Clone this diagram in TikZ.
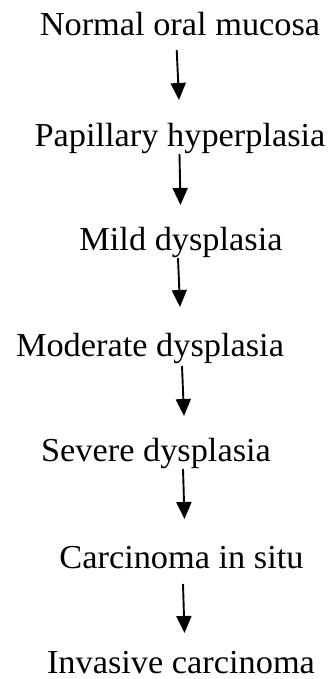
\documentclass[tikz,border=0pt]{standalone}
\usepackage{fontspec}
\setmainfont{Liberation Serif}
\usetikzlibrary{arrows.meta}
\begin{document}
\begin{tikzpicture}[x=1pt,y=-1pt,
  stage/.style={anchor=base,inner sep=0pt,font=\fontsize{33.5}{40}\selectfont},
  arr/.style={line width=1.9pt,-{Triangle[width=15pt,length=17pt]}}]
\useasboundingbox (0,0) rectangle (331,679);
% stages of the progression
\node[stage] (n1) at (180,36)  {\scalebox{1.025}[1]{Normal oral mucosa}};
\node[stage] (n2) at (180,147) {\scalebox{1.025}[1]{Papillary hyperplasia}};
\node[stage] (n3) at (181,250) {\scalebox{1.025}[1]{Mild dysplasia}};
\node[stage] (n4) at (150,356) {\scalebox{1.025}[1]{Moderate dysplasia}};
\node[stage] (n5) at (156,461) {\scalebox{1.025}[1]{Severe dysplasia}};
\node[stage] (n6) at (181.5,568) {\scalebox{1.025}[1]{Carcinoma in situ}};
\node[stage] (n7) at (181,673) {\scalebox{1.025}[1]{Invasive carcinoma}};
% arrow end points
\coordinate (a1s) at (176.7,50);  \coordinate (a1e) at (179,100);
\coordinate (a2s) at (179.5,154); \coordinate (a2e) at (180.5,205);
\coordinate (a3s) at (178,258);   \coordinate (a3e) at (180,307);
\coordinate (a4s) at (182,366);   \coordinate (a4e) at (184,416);
\coordinate (a5s) at (183,469);   \coordinate (a5e) at (184.5,519);
\coordinate (a6s) at (183,584);   \coordinate (a6e) at (184.5,633);
\foreach \i in {1,...,6}{\draw[arr] (a\i s) -- (a\i e);}
\end{tikzpicture}
\end{document}
